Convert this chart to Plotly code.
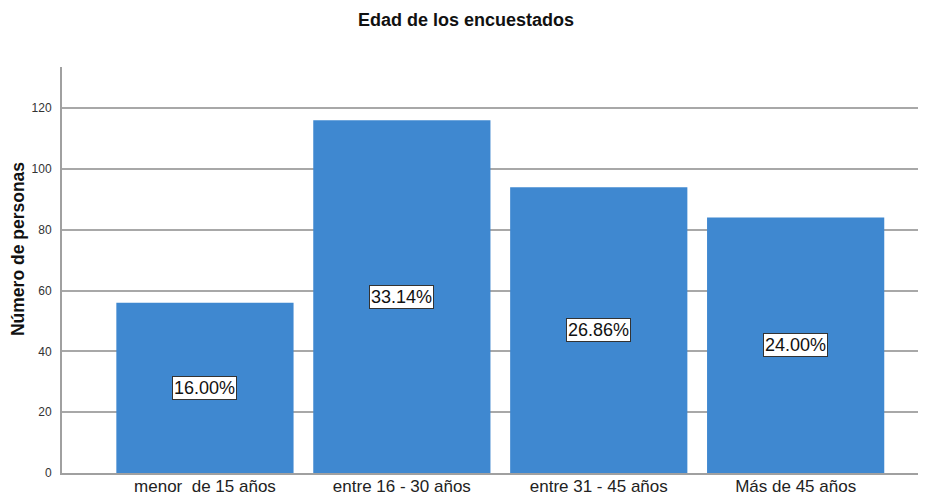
import plotly.graph_objects as go

categories = ["menor  de 15 años", "entre 16 - 30 años", "entre 31 - 45 años", "Más de 45 años"]
counts = [56, 116, 94, 84]
percent_labels = ["16.00%", "33.14%", "26.86%", "24.00%"]
y_ticks = [0, 20, 40, 60, 80, 100, 120]

FONT = "Liberation Sans, Arial, sans-serif"

# The page body adds an 8px offset; the figure is sized to compensate.
W, H = 918, 489
L, R, T, B = 54, 0, 59, 24

fig = go.Figure()
fig.add_trace(go.Bar(
    x=list(range(len(categories))),
    y=counts,
    marker=dict(color="#3f88d0", line=dict(width=0)),
    hoverinfo="skip",
))

for i, (c, lab) in enumerate(zip(counts, percent_labels)):
    fig.add_annotation(
        x=i, y=c / 2, xref="x", yref="y", text=lab, showarrow=False,
        font=dict(family=FONT, size=18, color="#111111"),
        bgcolor="white", bordercolor="#333333", borderwidth=1, borderpad=1,
    )

# y-axis title
fig.add_annotation(
    x=-0.0509, y=0.5517, xref="paper", yref="paper", text="<b>Número de personas</b>",
    textangle=-90, showarrow=False, xanchor="center", yanchor="middle",
    font=dict(family=FONT, size=17.5, color="#111111"),
)

fig.update_layout(
    width=W, height=H,
    margin=dict(l=L, r=R, t=T, b=B, autoexpand=False),
    paper_bgcolor="white", plot_bgcolor="white",
    bargap=0.1, showlegend=False,
    title=dict(text="<b>Edad de los encuestados</b>", x=0.499, xref="container",
               y=1 - 12 / H, yref="container", yanchor="middle",
               font=dict(family=FONT, size=18, color="#111111")),
    font=dict(family=FONT),
)

fig.update_xaxes(
    range=[-0.726, 3.662],
    tickmode="array", tickvals=list(range(len(categories))), ticktext=categories,
    tickfont=dict(family=FONT, size=17, color="#222222"),
    showgrid=False, showline=True, linecolor="#a0a0a0", linewidth=2,
    ticks="", ticklabelstandoff=-3, zeroline=False, automargin=False,
)
fig.update_yaxes(
    range=[0, 133.5],
    tickmode="array", tickvals=y_ticks,
    tickfont=dict(family=FONT, size=12, color="#333333"),
    showgrid=True, gridcolor="#a8a8a8", gridwidth=1.5,
    showline=True, linecolor="#a0a0a0", linewidth=2,
    ticks="", ticklabelstandoff=6, zeroline=False, automargin=False,
)

fig.write_html("out.html")
